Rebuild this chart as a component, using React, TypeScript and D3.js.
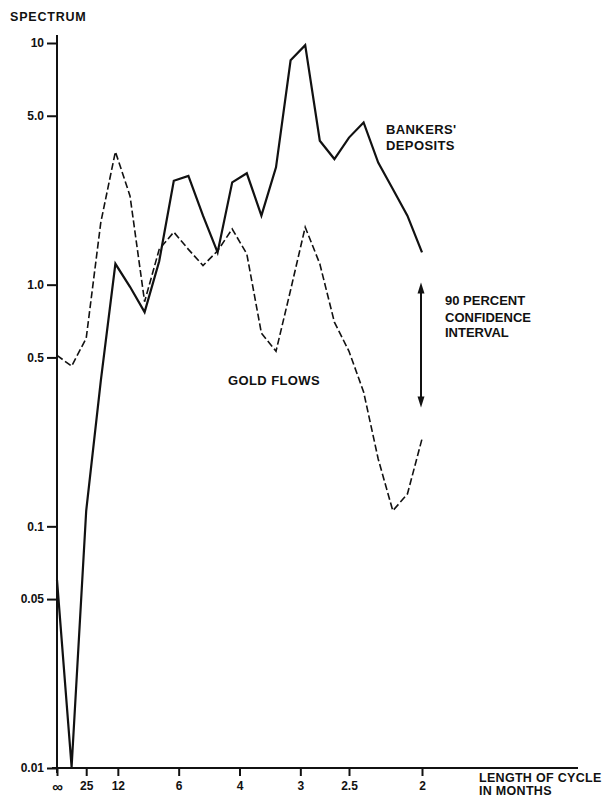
import React, { useEffect, useRef } from "react";
import * as d3 from "d3";

// frequency (cycles per month) of each spectral estimate
const frequencies = [
  0, 0.02, 0.04, 0.06, 0.08, 0.1, 0.12, 0.14, 0.16, 0.18, 0.2, 0.22, 0.24,
  0.26, 0.28, 0.3, 0.32, 0.34, 0.36, 0.38, 0.4, 0.42, 0.44, 0.46, 0.48, 0.5,
];

const bankersDeposits = [
  0.06, 0.0101, 0.116, 0.4, 1.22, 0.98, 0.77, 1.25, 2.69, 2.82, 1.93, 1.36, 2.65,
  2.89, 1.93, 3.06, 8.48, 9.8, 3.94, 3.31, 4.06, 4.69, 3.2, 2.49, 1.93, 1.36,
];

const goldFlows = [
  0.51, 0.46, 0.6, 1.81, 3.55, 2.33, 0.85, 1.4, 1.65, 1.4, 1.2, 1.38, 1.7,
  1.34, 0.63, 0.53, 0.95, 1.73, 1.22, 0.7, 0.53, 0.36, 0.19, 0.116, 0.136, 0.23,
];

const yTickValues = [10, 5, 1, 0.5, 0.1, 0.05, 0.01];
const yTickLabels = ["10", "5.0", "1.0", "0.5", "0.1", "0.05", "0.01"];

const cyclePeriods = [Infinity, 25, 12, 6, 4, 3, 2.5, 2];
const cycleLabels = ["\u221E", "25", "12", "6", "4", "3", "2.5", "2"];

// vertical extent of the 90 percent confidence interval arrow
const confidenceInterval = [0.31, 1.02];

const FONT = "'Liberation Sans', Arial, Helvetica, sans-serif";

export default function App() {
  const svgRef = useRef<SVGSVGElement | null>(null);

  useEffect(() => {
    if (!svgRef.current) return;
    const width = 615, height = 799;
    const axisX = 57, axisY = 768;

    const x = d3.scaleLinear().domain([0, 0.5]).range([axisX, 422]);
    const y = d3.scaleLog().domain([0.01, 10]).range([axisY, 43]);

    const svg = d3.select(svgRef.current);
    svg.selectAll("*").remove();
    svg.attr("width", width).attr("height", height);

    // y axis
    const yAxis = svg.append("g")
      .attr("transform", `translate(${axisX},0)`)
      .call(
        d3.axisLeft(y)
          .tickValues(yTickValues)
          .tickFormat((d, i) => yTickLabels[i])
          .tickSize(10)
          .tickPadding(3)
      );
    yAxis.select(".domain").remove();
    yAxis.selectAll(".tick line").attr("stroke", "#111").attr("stroke-width", 2);
    yAxis.selectAll(".tick text")
      .attr("fill", "#111")
      .attr("font-family", FONT)
      .attr("font-weight", "bold")
      .attr("font-size", 12);

    // x axis
    const xAxis = svg.append("g")
      .attr("transform", `translate(0,${axisY})`)
      .call(
        d3.axisBottom(x)
          .tickValues(cyclePeriods.map(p => 1 / p))
          .tickFormat((d, i) => cycleLabels[i])
          .tickSize(8)
          .tickPadding(5)
      );
    xAxis.select(".domain").remove();
    xAxis.selectAll(".tick line").attr("stroke", "#111").attr("stroke-width", 2);
    xAxis.selectAll(".tick text")
      .attr("fill", "#111")
      .attr("font-family", FONT)
      .attr("font-weight", "bold")
      .attr("font-size", (d, i) => (i === 0 ? 15 : 12));

    // axis lines
    svg.append("line")
      .attr("x1", axisX).attr("x2", axisX)
      .attr("y1", 35).attr("y2", axisY + 5)
      .attr("stroke", "#111").attr("stroke-width", 2);
    svg.append("line")
      .attr("x1", axisX - 5).attr("x2", 578)
      .attr("y1", axisY).attr("y2", axisY)
      .attr("stroke", "#111").attr("stroke-width", 2);

    const line = d3.line<number>()
      .x((d, i) => x(frequencies[i]))
      .y(d => y(d));

    svg.append("path")
      .datum(bankersDeposits)
      .attr("d", line)
      .attr("fill", "none")
      .attr("stroke", "#111")
      .attr("stroke-width", 2.2)
      .attr("stroke-linejoin", "miter");

    svg.append("path")
      .datum(goldFlows)
      .attr("d", line)
      .attr("fill", "none")
      .attr("stroke", "#111")
      .attr("stroke-width", 1.6)
      .attr("stroke-dasharray", "7,3");

    // confidence interval arrow
    const ax = x(0.5) - 1;
    const top = y(confidenceInterval[1]);
    const bot = y(confidenceInterval[0]);
    svg.append("line")
      .attr("x1", ax).attr("x2", ax)
      .attr("y1", top + 6).attr("y2", bot - 6)
      .attr("stroke", "#111").attr("stroke-width", 2);
    svg.append("path")
      .attr("d", `M${ax},${top} L${ax - 3.5},${top + 11} L${ax + 3.5},${top + 11} Z`)
      .attr("fill", "#111");
    svg.append("path")
      .attr("d", `M${ax},${bot} L${ax - 3.5},${bot - 11} L${ax + 3.5},${bot - 11} Z`)
      .attr("fill", "#111");

    const label = (tx: number, ty: number, s: string, size = 13, spacing = 0.4) =>
      svg.append("text")
        .attr("x", tx).attr("y", ty)
        .attr("font-family", FONT)
        .attr("font-weight", "bold")
        .attr("font-size", size)
        .attr("letter-spacing", spacing)
        .attr("fill", "#111")
        .text(s);

    label(10, 21, "SPECTRUM", 12.5, 0.8);
    label(386, 134, "BANKERS'");
    label(386, 150, "DEPOSITS");
    label(445, 305, "90 PERCENT", 13, 0);
    label(445, 321.5, "CONFIDENCE", 13, 0);
    label(445, 337, "INTERVAL", 13, 0);
    label(228, 385, "GOLD FLOWS");
    label(479, 782, "LENGTH OF CYCLE", 12.5, 0.3);
    label(479, 795, "IN MONTHS", 12.5, 0.3);
  }, []);

  return (
    <div style={{ position: "absolute", left: 0, top: 0, background: "#fff" }}>
      <svg ref={svgRef} width={615} height={799} style={{ display: "block" }}></svg>
    </div>
  );
}
